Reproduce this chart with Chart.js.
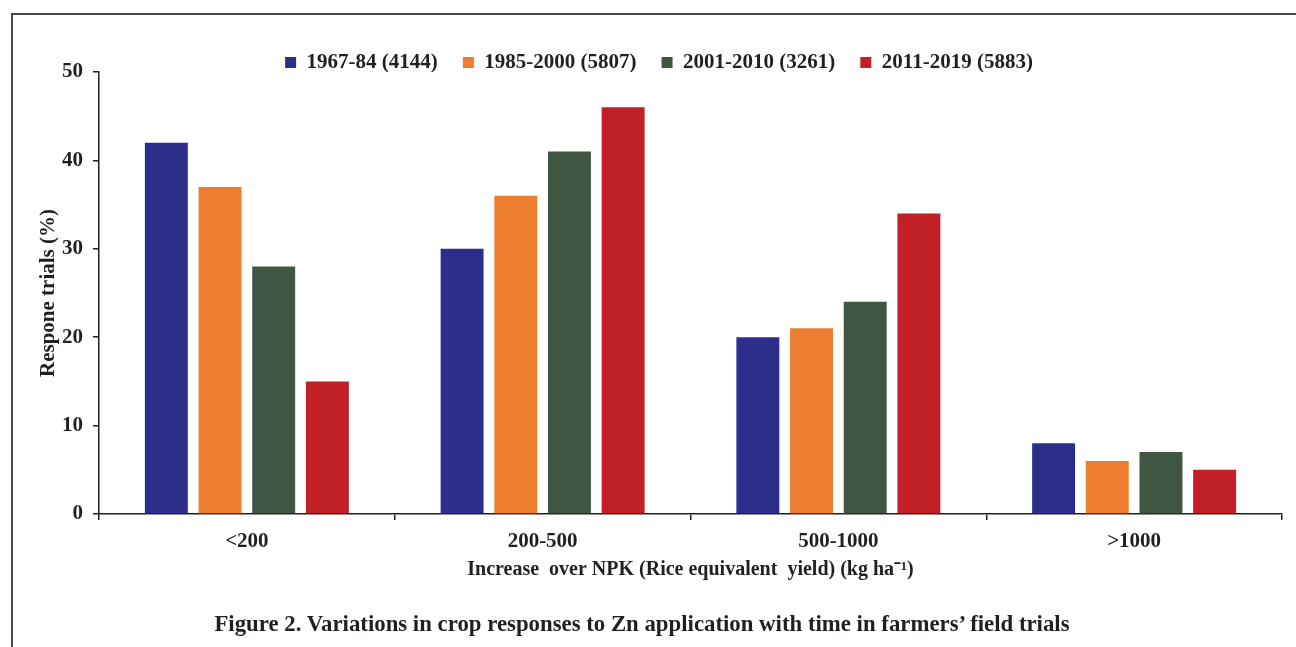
<!DOCTYPE html>
<html lang="en">
<head>
    <meta charset="UTF-8">
    <title>Zn response trials</title>
    <script src="https://cdn.jsdelivr.net/npm/chart.js"></script>
    <style>
        body { margin: 0; background: #fff; }
        .frame { position: absolute; left: 11px; top: 13px; width: 1290px; height: 640px;
                 border-left: 2px solid #4a4a4a; border-top: 2px solid #4a4a4a; }
        .wrap { position: absolute; left: 0; top: 0; width: 1296px; height: 647px; }
        .caption { position: absolute; left: 0; width: 1284px; top: 611px; text-align: center;
                   font-family: "Liberation Serif", serif; font-weight: bold; font-size: 22.8px; color: #231f20; }
    </style>
</head>
<body>
    <div class="frame"></div>
    <div class="wrap"><canvas id="chart"></canvas></div>
    <div class="caption">Figure 2. Variations in crop responses to Zn application with time in farmers’ field trials</div>
    <script>
        const categories = ["<200", "200-500", "500-1000", ">1000"];
        const periods = ["1967-84 (4144)", "1985-2000 (5807)", "2001-2010 (3261)", "2011-2019 (5883)"];
        const colors = ["#2b2f8b", "#ed7d31", "#3e5642", "#c12026"];
        const v1967 = [42, 30, 20, 8];
        const v1985 = [37, 36, 21, 6];
        const v2001 = [28, 41, 24, 7];
        const v2011 = [15, 46, 34, 5];
        const yTicks = [0, 10, 20, 30, 40, 50];

        const ink = "#231f20";
        const serif = "'Liberation Serif', 'Times New Roman', serif";

        const series = [v1967, v1985, v2001, v2011];

        new Chart(document.getElementById("chart"), {
            type: "bar",
            data: {
                labels: categories,
                datasets: series.map((vals, i) => ({
                    label: periods[i],
                    data: vals,
                    backgroundColor: colors[i],
                    categoryPercentage: 0.726,
                    barPercentage: 0.8
                }))
            },
            options: {
                responsive: true,
                maintainAspectRatio: false,
                animation: false,
                layout: { padding: { left: 36, right: 14, top: 27, bottom: 65 } },
                plugins: {
                    tooltip: { enabled: false },
                    legend: {
                        position: "top",
                        maxHeight: 45,
                        labels: {
                            boxWidth: 11,
                            boxHeight: 11,
                            padding: 25,
                            color: ink,
                            font: { family: serif, size: 21, weight: "bold" }
                        }
                    }
                },
                scales: {
                    x: {
                        grid: { display: true, drawOnChartArea: false, tickLength: 6, color: ink, lineWidth: 1.5, offset: true },
                        border: { color: ink, width: 1.5 },
                        ticks: { color: ink, padding: 9, font: { family: serif, size: 21, weight: "bold" } },
                        title: {
                            display: true,
                            text: "Increase  over NPK (Rice equivalent  yield) (kg ha⁻¹)",
                            color: ink,
                            padding: { top: 2, bottom: 0 },
                            font: { family: serif, size: 20, weight: "bold" }
                        },
                        afterFit: (scale) => { scale.height = 68; }
                    },
                    y: {
                        min: 0,
                        max: 50,
                        afterBuildTicks: (scale) => { scale.ticks = yTicks.map(v => ({ value: v })); },
                        grid: { display: true, drawOnChartArea: false, tickLength: 6, color: ink, lineWidth: 1.5 },
                        border: { color: ink, width: 1.5 },
                        ticks: { color: ink, padding: 10, font: { family: serif, size: 21, weight: "bold" } },
                        title: {
                            display: true,
                            text: "Respone trials (%)",
                            color: ink,
                            padding: { top: 0, bottom: 0 },
                            font: { family: serif, size: 21, weight: "bold" }
                        },
                        afterFit: (scale) => { scale.width = 63; }
                    }
                }
            }
        });
    </script>
</body>
</html>
